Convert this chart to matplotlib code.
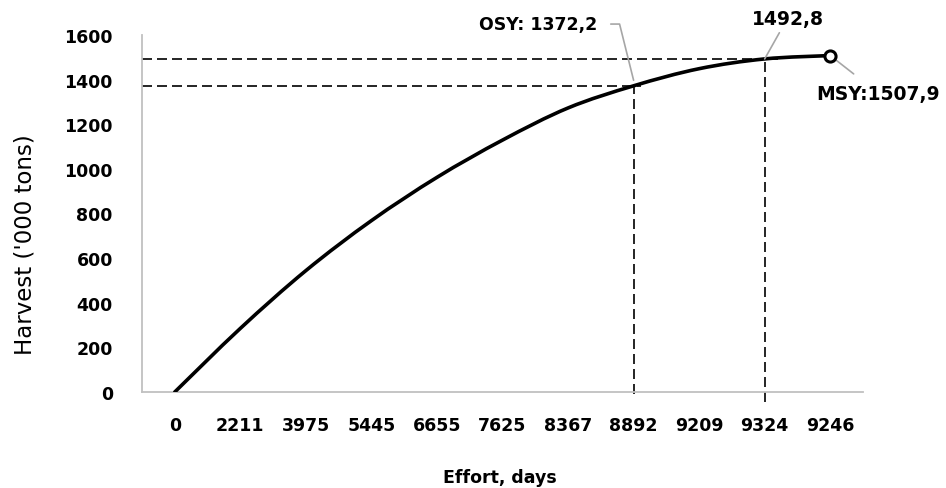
import numpy as np
import matplotlib as mpl
mpl.use('Agg')
import matplotlib.pyplot as plt
from matplotlib.path import Path
from matplotlib.patches import PathPatch

# effort (category labels) and harvest values
effort = ['0', '2211', '3975', '5445', '6655', '7625', '8367', '8892', '9209', '9324', '9246']
harvest = [0, 285, 544, 768, 962, 1129, 1273, 1372.2, 1449, 1492.8, 1507.9]

osy_idx, osy_val = 7, 1372.2
mid_idx, mid_val = 9, 1492.8
msy_idx, msy_val = 10, 1507.9

plt.rcParams['font.family'] = ['DejaVu Sans']

W, H = 946, 489
fig = plt.figure(figsize=(W / 100, H / 100), dpi=100)
ax = fig.add_axes([142 / W, 1 - 393 / H, (863 - 142) / W, (393 - 36) / H])

x = np.arange(len(effort))
y = np.array(harvest, dtype=float)

# smoothed line like the spreadsheet one (bezier through the data points)
pts = np.column_stack([x, y])
ext = np.vstack([pts[0], pts, pts[-1]])
verts = [tuple(pts[0])]
codes = [Path.MOVETO]
for i in range(len(pts) - 1):
    c1 = ext[i + 1] + (ext[i + 2] - ext[i]) / 6
    c2 = ext[i + 2] - (ext[i + 3] - ext[i + 1]) / 6
    verts += [tuple(c1), tuple(c2), tuple(pts[i + 1])]
    codes += [Path.CURVE4] * 3
ax.add_patch(PathPatch(Path(verts, codes), fill=False, edgecolor='black',
                       lw=2.6, capstyle='round', zorder=3))
ax.plot([msy_idx], [msy_val], 'o', ms=8, mfc='white', mec='black', mew=2.2, zorder=4)

ax.set_xlim(-0.5, len(effort) - 0.5)
ax.set_ylim(0, 1600)
ax.set_yticks(np.arange(0, 1601, 200))
ax.set_xticks(x)
ax.set_xticklabels(effort)

for s in ['top', 'right']:
    ax.spines[s].set_visible(False)
for s in ['left', 'bottom']:
    ax.spines[s].set_color('#c0c0c0')
    ax.spines[s].set_linewidth(1.3)
ax.tick_params(length=0)
ax.tick_params(axis='y', pad=21, labelsize=12.5)
ax.tick_params(axis='x', pad=17, labelsize=12.5)
for t in ax.get_xticklabels() + ax.get_yticklabels():
    t.set_fontweight('bold')

# dashed guide lines
dash = dict(color='black', lw=1.2, linestyle=(0, (6, 3)), clip_on=False, zorder=2)
ax.plot([-0.5, osy_idx + 0.12], [osy_val, osy_val], **dash)
ax.plot([-0.5, mid_idx + 0.2], [mid_val, mid_val], **dash)
ax.plot([osy_idx, osy_idx], [-10, osy_val], **dash)
ax.plot([mid_idx, mid_idx], [-45, mid_val], **dash)

lead = dict(arrowstyle='-', color='#a6a6a6', lw=1.2, shrinkB=0)
ax.annotate('OSY: 1372,2', xy=(osy_idx, osy_val + 25), xytext=(6.44, 1649),
            ha='right', va='center', fontsize=12.5, fontweight='bold',
            arrowprops=dict(lead, relpos=(1, 0.5), shrinkA=8,
                            connectionstyle='angle,angleA=0,angleB=104,rad=0'),
            annotation_clip=False)
ax.annotate('1492,8', xy=(mid_idx, mid_val), xytext=(9.35, 1676),
            ha='center', va='center', fontsize=13.5, fontweight='bold',
            arrowprops=dict(lead, shrinkA=2), annotation_clip=False)
ax.annotate('MSY:1507,9', xy=(msy_idx, msy_val), xytext=(10.73, 1340),
            ha='center', va='center', fontsize=13.5, fontweight='bold',
            arrowprops=dict(lead, shrinkA=8, shrinkB=6), annotation_clip=False)

fig.text(25 / W, 1 - 245 / H, "Harvest ('000 tons)", rotation=90,
         ha='center', va='center', fontsize=16.5)
fig.text(500 / W, 1 - 478 / H, 'Effort, days', ha='center', va='center',
         fontsize=12.5, fontweight='bold')

plt.savefig('out.png', dpi=100)
plt.close()
